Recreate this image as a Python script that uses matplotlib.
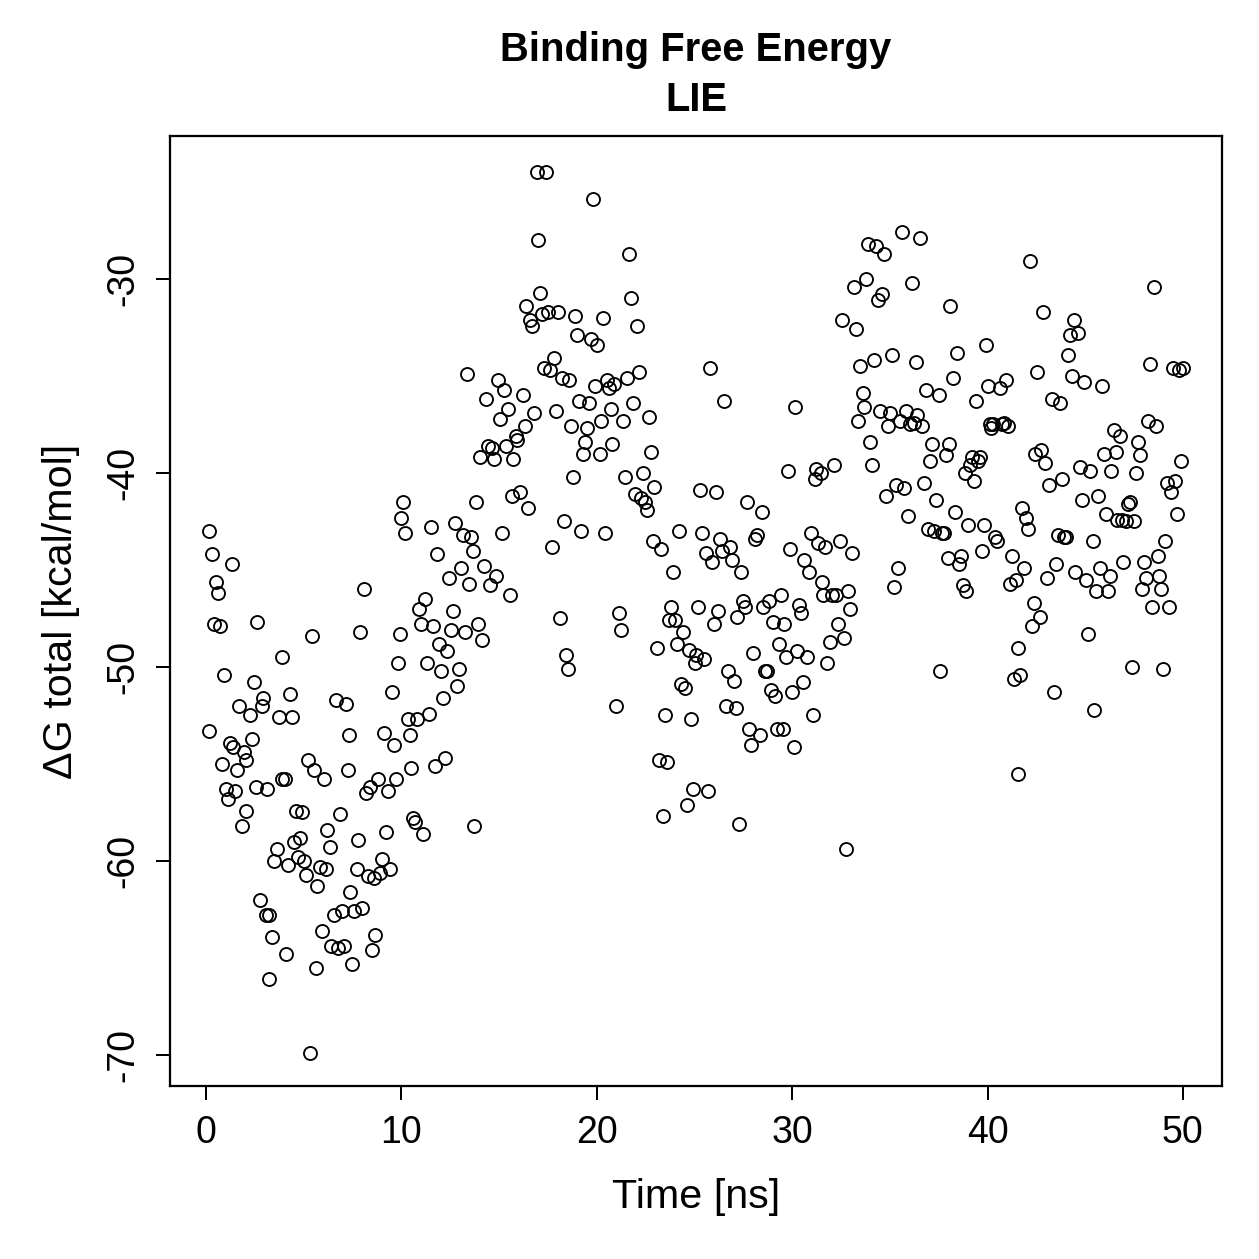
import matplotlib
matplotlib.use("Agg")
import matplotlib.pyplot as plt

plt.rcParams['font.family'] = ['Liberation Sans', 'DejaVu Sans']
plt.rcParams['axes.unicode_minus'] = False

# time [ns] and dG total [kcal/mol]
time_ns = [
    0.15, 0.3, 0.5, 0.6, 0.4, 0.7, 0.15, 0.9, 0.8, 1.0, 1.1, 1.2, 1.4, 1.3, 1.5, 1.6, 1.7, 1.85, 1.95, 2.05,
    2.05, 2.25, 2.35, 2.45, 2.6, 2.55, 2.75, 2.85, 2.9, 3.1, 3.05, 3.2, 3.2, 3.35, 3.5, 3.65, 3.75, 3.9, 4.05, 3.9,
    4.1, 4.2, 4.3, 4.4, 4.5, 4.6, 4.7, 4.8, 4.9, 5.0, 5.1, 5.3, 5.2, 5.4, 5.5, 5.6, 5.7, 5.85, 5.95, 6.05,
    6.15, 6.2, 6.35, 6.4, 6.55, 6.65, 6.75, 6.85, 6.95, 7.05, 7.15, 7.25, 7.3, 7.35, 7.45, 7.55, 7.7, 7.8, 7.9, 8.0,
    8.1, 8.2, 8.3, 8.4, 8.5, 8.6, 8.65, 8.8, 8.9, 9.0, 9.1, 9.2, 9.3, 9.4, 9.5, 9.6, 9.7, 9.8, 9.9, 10.0,
    10.1, 10.2, 10.35, 10.45, 10.5, 10.6, 10.7, 10.8, 10.9, 11.0, 11.1, 11.2, 11.3, 11.4, 11.5, 11.6, 11.7, 11.8, 11.9, 12.0,
    12.15, 12.25, 12.35, 12.45, 12.55, 12.65, 12.75, 12.85, 12.95, 13.05, 13.15, 13.25, 13.35, 13.45, 13.55, 13.65, 13.7, 13.8, 13.9, 14.0,
    14.1, 14.2, 14.35, 14.45, 14.55, 14.65, 14.75, 14.85, 14.95, 15.05, 15.15, 15.25, 15.35, 15.45, 15.55, 15.65, 15.7, 15.85, 15.9, 16.05,
    16.2, 16.3, 16.4, 16.5, 16.6, 16.7, 16.8, 17.0, 16.95, 17.1, 17.2, 17.3, 17.4, 17.5, 17.6, 17.7, 17.8, 17.9, 18.0, 18.1,
    18.2, 18.3, 18.4, 18.5, 18.6, 18.7, 18.8, 18.9, 19.0, 19.1, 19.2, 19.3, 19.4, 19.5, 19.6, 19.7, 19.8, 19.9, 20.0, 20.15,
    20.2, 20.3, 20.4, 20.5, 20.6, 20.7, 20.8, 20.9, 21.0, 21.15, 21.25, 21.35, 21.45, 21.55, 21.65, 21.75, 21.85, 21.95, 22.05, 22.15,
    22.25, 22.35, 22.45, 22.55, 22.65, 22.75, 22.85, 22.95, 23.1, 23.2, 23.3, 23.4, 23.5, 23.6, 23.7, 23.8, 23.9, 24.0, 24.1, 24.2,
    24.3, 24.4, 24.5, 24.6, 24.7, 24.8, 24.9, 25.0, 25.1, 25.2, 25.3, 25.4, 25.5, 25.6, 25.7, 25.8, 25.9, 26.0, 26.1, 26.2,
    26.3, 26.4, 26.5, 26.6, 26.7, 26.8, 26.9, 27.0, 27.1, 27.2, 27.3, 27.4, 27.5, 27.6, 27.7, 27.8, 27.9, 28.0, 28.1, 28.2,
    28.35, 28.45, 28.5, 28.6, 28.7, 28.8, 28.9, 29.0, 29.1, 29.2, 29.3, 29.45, 29.55, 29.6, 29.7, 29.8, 29.9, 30.0, 30.1, 30.15,
    30.25, 30.35, 30.45, 30.55, 30.6, 30.75, 30.85, 30.95, 31.05, 31.15, 31.2, 31.3, 31.45, 31.55, 31.6, 31.7, 31.8, 31.95, 32.05, 32.15,
    32.25, 32.35, 32.45, 32.55, 32.65, 32.75, 32.85, 32.95, 33.05, 33.15, 33.25, 33.35, 33.45, 33.6, 33.7, 33.8, 33.9, 34.0, 34.1, 34.2,
    34.3, 34.4, 34.5, 34.6, 34.7, 34.8, 34.9, 35.0, 35.1, 35.2, 35.3, 35.4, 35.5, 35.6, 35.7, 35.85, 35.95, 36.05, 36.15, 36.25,
    36.35, 36.4, 36.55, 36.65, 36.75, 36.85, 36.95, 37.05, 37.15, 37.25, 37.35, 37.5, 37.55, 37.65, 37.75, 37.85, 37.95, 38.05, 38.1, 38.25,
    38.35, 38.45, 38.55, 38.65, 38.75, 38.85, 38.9, 39.0, 39.1, 39.2, 39.3, 39.4, 39.5, 39.6, 39.7, 39.8, 39.9, 40.0, 40.1, 40.2,
    40.3, 40.4, 40.5, 40.65, 40.75, 40.85, 40.95, 41.05, 41.15, 41.25, 41.35, 41.45, 41.55, 41.55, 41.65, 41.75, 41.85, 41.95, 42.05, 42.15,
    42.25, 42.4, 42.45, 42.55, 42.7, 42.75, 42.85, 42.95, 43.05, 43.15, 43.3, 43.4, 43.5, 43.6, 43.7, 43.8, 43.9, 44.0, 44.1, 44.2,
    44.3, 44.4, 44.5, 44.65, 44.75, 44.85, 44.95, 45.05, 45.15, 45.25, 45.4, 45.45, 45.55, 45.65, 45.75, 45.85, 45.95, 46.05, 46.15, 46.25,
    46.3, 46.45, 46.55, 46.65, 46.8, 46.9, 46.95, 47.1, 47.2, 47.3, 47.4, 47.5, 47.6, 47.7, 47.8, 47.9, 48.0, 48.1, 48.2, 48.3,
    48.4, 48.5, 48.6, 48.7, 48.8, 48.9, 49.0, 49.1, 49.2, 49.3, 49.4, 49.5, 49.6, 49.7, 49.8, 49.9, 50.0,
]
dg_total = [
    -43.0, -44.2, -45.6, -46.2, -47.8, -47.9, -53.3, -50.4, -55.0, -56.3, -56.8, -53.9, -54.1, -44.7, -56.4, -55.3, -52.0, -58.2, -54.4, -54.8,
    -57.4, -52.5, -53.7, -50.8, -47.7, -56.2, -62.0, -52.0, -51.6, -56.3, -62.8, -62.8, -66.1, -63.9, -60.0, -59.4, -52.6, -55.8, -55.8, -49.5,
    -64.8, -60.2, -51.4, -52.6, -59.0, -57.4, -59.8, -58.8, -57.5, -60.0, -60.7, -69.9, -54.8, -48.4, -55.3, -65.5, -61.3, -60.3, -63.6, -55.8,
    -60.4, -58.4, -59.3, -64.4, -62.8, -51.7, -64.5, -57.6, -62.6, -64.4, -51.9, -55.3, -53.5, -61.6, -65.3, -62.6, -60.4, -58.9, -48.2, -62.4,
    -46.0, -56.5, -60.8, -56.2, -64.6, -60.9, -63.8, -55.8, -60.6, -59.9, -53.4, -58.5, -56.4, -60.4, -51.3, -54.0, -55.8, -49.8, -48.3, -42.3,
    -41.5, -43.1, -52.7, -53.5, -55.2, -57.8, -58.0, -52.7, -47.0, -47.8, -58.6, -46.5, -49.8, -52.4, -42.8, -47.9, -55.1, -44.2, -48.8, -50.2,
    -51.6, -54.7, -49.2, -45.4, -48.1, -47.1, -42.6, -51.0, -50.1, -44.9, -43.2, -48.2, -34.9, -45.7, -43.3, -44.0, -58.2, -41.5, -47.8, -39.2,
    -48.6, -44.8, -36.2, -38.6, -45.8, -38.7, -39.3, -45.3, -35.2, -37.2, -43.1, -35.7, -38.6, -36.7, -46.3, -41.2, -39.3, -38.1, -38.3, -41.0,
    -36.0, -37.6, -31.4, -41.8, -32.1, -32.4, -36.9, -28.0, -24.5, -30.7, -31.8, -34.6, -24.5, -31.7, -34.7, -43.8, -34.1, -36.8, -31.7, -47.5,
    -35.1, -42.5, -49.4, -50.1, -35.2, -37.6, -40.2, -31.9, -32.9, -36.3, -43.0, -39.0, -38.4, -37.7, -36.4, -33.1, -25.9, -35.5, -33.4, -39.0,
    -37.3, -32.0, -43.1, -35.2, -35.6, -36.7, -38.5, -35.4, -52.0, -47.2, -48.1, -37.3, -40.2, -35.1, -28.7, -31.0, -36.4, -41.1, -32.4, -34.8,
    -41.3, -40.0, -41.5, -41.9, -37.1, -38.9, -43.5, -40.7, -49.0, -54.8, -43.9, -57.7, -52.5, -54.9, -47.6, -46.9, -45.1, -47.6, -48.8, -43.0,
    -50.9, -48.2, -51.1, -57.1, -49.1, -52.7, -56.3, -49.8, -49.4, -46.9, -40.9, -43.1, -49.6, -44.1, -56.4, -34.6, -44.6, -47.8, -41.0, -47.1,
    -43.4, -44.0, -36.3, -52.0, -50.2, -43.8, -44.5, -50.7, -52.1, -47.4, -58.1, -45.1, -46.6, -46.9, -41.5, -53.2, -54.0, -49.3, -43.4, -43.2,
    -53.5, -42.0, -46.9, -50.2, -50.2, -46.6, -51.2, -47.7, -51.5, -53.2, -48.8, -46.3, -53.2, -47.8, -49.5, -39.9, -43.9, -51.3, -54.1, -36.6,
    -49.2, -46.8, -47.2, -50.8, -44.5, -49.5, -45.1, -43.1, -52.5, -40.3, -39.8, -43.6, -40.0, -45.6, -46.3, -43.8, -49.8, -48.7, -46.3, -39.6,
    -46.3, -47.8, -43.5, -32.1, -48.5, -59.4, -46.1, -47.0, -44.1, -30.4, -32.6, -37.3, -34.5, -35.9, -36.6, -30.0, -28.2, -38.4, -39.6, -34.2,
    -28.3, -31.1, -36.8, -30.8, -28.7, -41.2, -37.6, -36.9, -33.9, -45.9, -40.6, -44.9, -37.3, -27.6, -40.8, -36.8, -42.2, -37.5, -30.2, -37.4,
    -34.3, -37.0, -27.9, -37.6, -40.5, -35.7, -42.9, -39.4, -38.5, -43.0, -41.4, -36.0, -50.2, -43.1, -43.1, -39.1, -44.4, -38.5, -31.4, -35.1,
    -42.0, -33.8, -44.7, -44.3, -45.8, -40.0, -46.1, -42.7, -39.6, -39.2, -40.4, -36.3, -39.4, -39.2, -44.0, -42.7, -33.4, -35.5, -37.5, -37.7,
    -37.5, -43.3, -43.5, -35.6, -37.5, -37.4, -35.2, -37.6, -45.7, -44.3, -50.6, -45.5, -49.0, -55.5, -50.4, -41.8, -44.9, -42.3, -42.9, -29.1,
    -47.9, -46.7, -39.0, -34.8, -47.4, -38.8, -31.7, -39.5, -45.4, -40.6, -36.2, -51.3, -44.7, -43.2, -36.4, -40.3, -43.3, -43.3, -33.9, -32.9,
    -35.0, -32.1, -45.1, -32.8, -39.7, -41.4, -35.3, -45.5, -48.3, -39.9, -43.5, -52.2, -46.1, -41.2, -44.9, -35.5, -39.0, -42.1, -46.1, -45.3,
    -39.9, -37.8, -38.9, -42.4, -38.1, -42.4, -44.6, -42.5, -41.6, -41.5, -50.0, -42.5, -40.0, -38.4, -39.1, -46.0, -44.6, -45.4, -37.3, -34.4,
    -46.9, -30.4, -37.6, -44.3, -45.3, -46.0, -50.1, -43.5, -40.5, -46.9, -41.0, -34.6, -40.4, -42.1, -34.7, -39.4, -34.6,
]

fig = plt.figure(figsize=(1259 / 180, 1259 / 180), dpi=180)
ax = fig.add_axes([0.135, 0.1374, 0.8356, 0.7546])

ax.plot(time_ns, dg_total, linestyle='none', marker='o', markersize=5.2,
        markerfacecolor='none', markeredgecolor='black', markeredgewidth=0.75)

ax.set_xlim(-1.85, 52.0)
ax.set_ylim(-71.6, -22.63)
ax.set_xticks([0, 10, 20, 30, 40, 50])
ax.set_yticks([-70, -60, -50, -40, -30])
ax.tick_params(direction='out', length=5.5, width=0.8, labelsize=15, pad=6)
for lab in ax.get_yticklabels():
    lab.set_rotation(90)
    lab.set_va('center')
for s in ax.spines.values():
    s.set_linewidth(0.9)

ax.set_xlabel('Time [ns]', fontsize=16.5, labelpad=11)
ax.set_ylabel('ΔG total [kcal/mol]', fontsize=16.5, labelpad=10)
ax.set_title('Binding Free Energy\nLIE', fontsize=16, fontweight='bold', pad=10, linespacing=1.4)

fig.savefig('out.png', dpi=180)
